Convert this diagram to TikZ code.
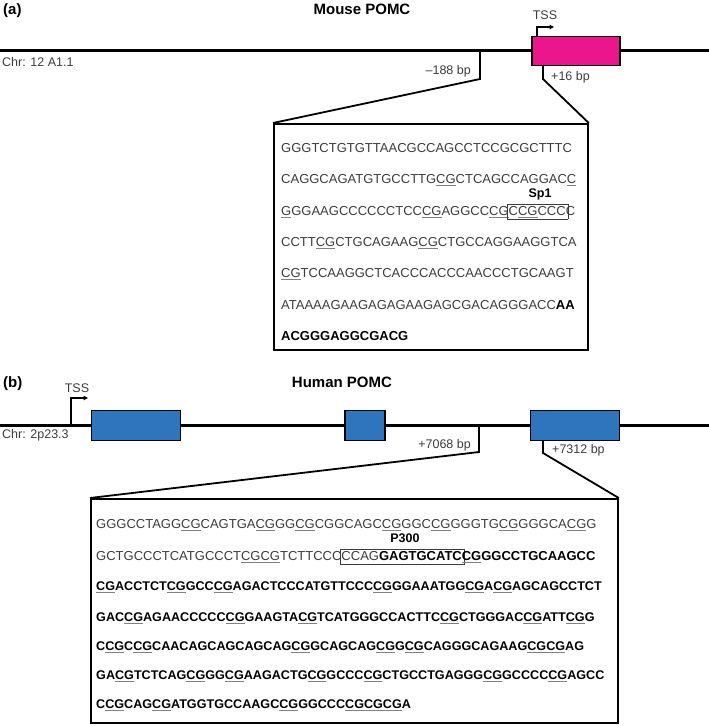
\documentclass[tikz,border=0pt]{standalone}
\usepackage{fontspec}
\setmainfont{Liberation Sans}
\usetikzlibrary{arrows.meta}
\definecolor{mousepink}{RGB}{236,22,140}
\definecolor{humanblue}{RGB}{46,117,190}
\definecolor{seqgray}{RGB}{60,60,60}
\newlength\sitewd
% underlined CpG
\newcommand\cg[1]{\setbox0\hbox{#1}\rlap{\color{gray}\rule[-2.4pt]{\wd0}{0.9pt}}\box0}
% boxed binding site
\newcommand\site[1]{\settowidth\sitewd{#1}\rlap{\kern-1.5pt\raisebox{-3.5pt}{\fboxsep=0pt\fboxrule=0.6pt\fbox{\rule{0pt}{14pt}\kern\sitewd\kern3pt}}}#1}

\begin{document}
\begin{tikzpicture}[x=1pt, y=-1pt,
  chrom/.style={line width=3pt},
  exon/.style={draw, line width=1.8pt, inner sep=0pt},
  link/.style={line width=1.8pt},
  seqbox/.style={draw, line width=1.8pt, inner sep=0pt, anchor=north west},
  seq/.style={anchor=base west, inner sep=0pt, font=\fontsize{13}{15}\selectfont, text=seqgray},
  seqb/.style={seq, font=\fontsize{12.6}{15}\selectfont\bfseries, text=black},
  lbl/.style={inner sep=0pt, font=\fontsize{12.5}{14}\selectfont, text=seqgray},
  title/.style={inner sep=0pt, font=\fontsize{15}{17}\selectfont\bfseries},
  tss/.style={line width=1.2pt, -{Triangle[length=4.5pt, width=4.5pt]}}]

\useasboundingbox (0,0) rectangle (709,726);

% (a) mouse
\node[title, anchor=west] (atag) at (3,11) {(a)};
\node[title] (mtitle) at (362,9) {Mouse POMC};
\coordinate (mleft) at (0,50.5);
\coordinate (mright) at (709,50.5);
\draw[chrom] (mleft) -- (mright);
\node[exon, fill=mousepink, minimum width=88pt, minimum height=29pt] (mexon) at (576,51) {};
\node[lbl, anchor=west] (mchr) at (2,62) {Chr: 12 A1.1};
\node[lbl] (mtss) at (545,15) {TSS};
\coordinate (mtssbase) at (537,37);
\draw[tss] (mtssbase) |- ++(17,-10);

\coordinate (m188a) at (480,50.5);
\coordinate (m188b) at (480,79);
\node[lbl, anchor=east] (m188) at (471,71) {–188 bp};
\coordinate (m16a) at (543,65);
\coordinate (m16b) at (543,79);
\node[lbl, anchor=west] (m16) at (551,77) {+16 bp};
\node[seqbox, minimum width=314pt, minimum height=226pt] (mseq) at (273,123) {};
\draw[link] (m188a) -- (m188b) -- (mseq.north west);
\draw[link] (m16a) -- (m16b) -- (mseq.north east);

\node[seq] (ms1) at (281,152) {GGGTCTGTGTTAACGCCAGCCTCCGCGCTTTC};
\node[seq] (ms2) at (281,183.5) {CAGGCAGATGTGCCTTG\cg{CG}CTCAGCCAGGAC\cg{C}};
\node[seq] (ms3) at (281,215) {\cg{G}GGAAGCCCCCCTCC\cg{CG}AGGCC\cg{CG}\site{C\cg{CG}CCC}C};
\node[seq] (ms4) at (281,246) {CCTT\cg{CG}CTGCAGAAG\cg{CG}CTGCCAGGAAGGTCA};
\node[seq] (ms5) at (281,277.5) {\cg{CG}TCCAAGGCTCACCCACCCAACCCTGCAAGT};
\node[seq] (ms6) at (281,309) {ATAAAAGAAGAGAGAAGAGCGACAGGGACC\textbf{\color{black}AA}};
\node[seq, font=\fontsize{13}{15}\selectfont\bfseries, text=black] (ms7) at (281,340) {ACGGGAGGCGACG};
\node[title, font=\fontsize{12.5}{14}\selectfont\bfseries] (sp1) at (540,194) {Sp1};

% (b) human
\node[title, anchor=west] (btag) at (3,384) {(b)};
\node[title] (htitle) at (342,382) {Human POMC};
\coordinate (hleft) at (0,425);
\coordinate (hright) at (709,425);
\draw[chrom] (hleft) -- (hright);
\node[exon, fill=humanblue, minimum width=89pt, minimum height=30pt] (hexon1) at (136,425.5) {};
\node[exon, fill=humanblue, minimum width=40pt, minimum height=30pt] (hexon2) at (365,425.5) {};
\node[exon, fill=humanblue, minimum width=89pt, minimum height=30pt] (hexon3) at (575,425.5) {};
\node[lbl, anchor=west] (hchr) at (2,435) {Chr: 2p23.3};
\node[lbl] (htss) at (77,388) {TSS};
\coordinate (htssbase) at (71,425);
\draw[tss] (htssbase) |- ++(17,-27);

\coordinate (h7068a) at (479,425);
\coordinate (h7068b) at (479,452);
\node[lbl, anchor=east] (h7068) at (471,445) {+7068 bp};
\coordinate (h7312a) at (543,440);
\coordinate (h7312b) at (543,453);
\node[lbl, anchor=west] (h7312) at (552,450) {+7312 bp};
\node[seqbox, minimum width=527pt, minimum height=224pt] (hseq) at (90,498) {};
\draw[link] (h7068a) -- (h7068b) -- (hseq.north west);
\draw[link] (h7312a) -- (h7312b) -- (hseq.north east);

\node[seq] (hs1) at (96,528) {GGGCCTAGG\cg{CG}CAGTGA\cg{CG}GG\cg{CG}CGGCAGC\cg{CG}GGC\cg{CG}GGGTG\cg{CG}GGGCA\cg{CG}G};
\node[seq] (hs2) at (96,560) {GCTGCCCTCATGCCCT\cg{CGCG}TCTTCCC\site{CCAG\textbf{\color{black}GAGTGCATC}}\textbf{\color{black}\cg{CG}GGCCTGCAAGCC}};
\node[seqb] (hs3) at (96,590) {\cg{CG}ACCTCT\cg{CG}GCC\cg{CG}AGACTCCCATGTTCCC\cg{CG}GGAAATGG\cg{CG}A\cg{CG}AGCAGCCTCT};
\node[seqb] (hs4) at (96,621) {GAC\cg{CG}AGAACCCCC\cg{CG}GAAGTA\cg{CG}TCATGGGCCACTTC\cg{CG}CTGGGAC\cg{CG}ATT\cg{CG}G};
\node[seqb] (hs5) at (96,650) {C\cg{CG}C\cg{CG}CAACAGCAGCAGCAG\cg{CG}GCAGCAG\cg{CG}G\cg{CG}CAGGGCAGAAG\cg{CGCG}AG};
\node[seqb] (hs6) at (96,679) {GA\cg{CG}TCTCAG\cg{CG}GG\cg{CG}AAGACTG\cg{CG}GCCC\cg{CG}CTGCCTGAGGG\cg{CG}GCCCC\cg{CG}AGCC};
\node[seqb] (hs7) at (96,708) {C\cg{CG}CAG\cg{CG}ATGGTGCCAAGC\cg{CG}GGCCC\cg{CGCGCG}A};
\node[title, font=\fontsize{12.5}{14}\selectfont\bfseries] (p300) at (405,538) {P300};
\end{tikzpicture}
\end{document}
